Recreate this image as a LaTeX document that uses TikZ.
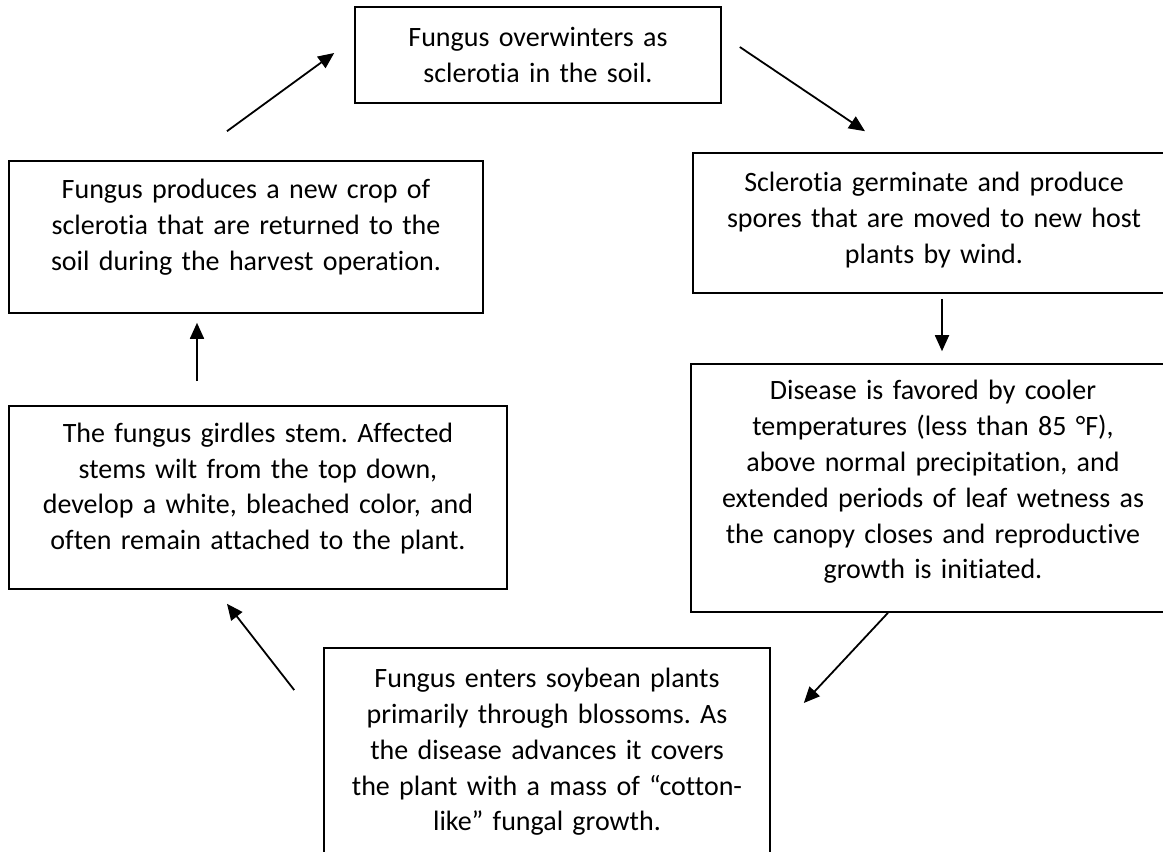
\documentclass[tikz,border=0pt]{standalone}
\usepackage{fontspec}
\setmainfont[Ligatures=NoCommon]{Carlito}
\frenchspacing
\usetikzlibrary{arrows.meta,calc}

\newcommand{\padbelow}[1]{\par\vspace{#1}\hrule height 0pt}

\begin{document}
\begin{tikzpicture}[x=0.5pt, y=-0.5pt, line width=0.8pt,
  stage/.style 2 args={draw, align=center, inner xsep=0pt, inner ysep=0pt,
    text width=#1, minimum width=#1, minimum height=#2,
    font=\fontsize{14pt}{17.9pt}\selectfont},
  flow/.style={-{Triangle[length=8pt, width=7pt]}, line width=0.9pt}]
  \useasboundingbox (0,0) rectangle (1163,852);

  \node[stage={183pt}{48pt}] (winter) at (538,55)
    {Fungus overwinters as\\ sclerotia in the soil.};
  \node[stage={241pt}{70pt}] (sclero) at (934,223)
    {Sclerotia germinate and produce\\ spores that are moved to new host\\
     plants by wind.\padbelow{3pt}};
  \node[stage={242pt}{124pt}] (disease) at (933,488)
    {Disease is favored by cooler\\ temperatures (less than 85 °F),\\
     above normal precipitation, and\\ extended periods of leaf wetness as\\
     the canopy closes and reproductive\\ growth is initiated.\padbelow{6pt}};
  \node[stage={223pt}{104pt}] (enter) at (547,752)
    {Fungus enters soybean plants\\ primarily through blossoms. As\\
     the disease advances it covers\\ the plant with a mass of “cotton-\\
     like” fungal growth.};
  \node[stage={249pt}{91.5pt}] (girdle) at (258,497.5)
    {The fungus girdles stem. Affected\\ stems wilt from the top down,\\
     develop a white, bleached color, and\\ often remain attached to the plant.\padbelow{9pt}};
  \node[stage={237pt}{76pt}] (produces) at (246,237)
    {Fungus produces a new crop of\\ sclerotia that are returned to the\\
     soil during the harvest operation.\padbelow{10pt}};

  \draw[flow] ($(winter.east)+(18,-8)$) -- ($(sclero.north)+(-69,-21)$);
  \draw[flow] ($(sclero.south)+(8,5)$) -- ($(disease.north)+(9,-12)$);
  \draw[flow] ($(disease.south)+(-45,0)$) -- ($(enter.east)+(33,-49)$);
  \draw[flow] ($(enter.west)+(-29,-62)$) -- ($(girdle.south)+(-31,14)$);
  \draw[flow] ($(girdle.north)+(-61,-24)$) -- ($(produces.south)+(-49,9)$);
  \draw[flow] ($(produces.north)+(-19,-29)$) -- ($(winter.west)+(-20,-2)$);
\end{tikzpicture}
\end{document}
